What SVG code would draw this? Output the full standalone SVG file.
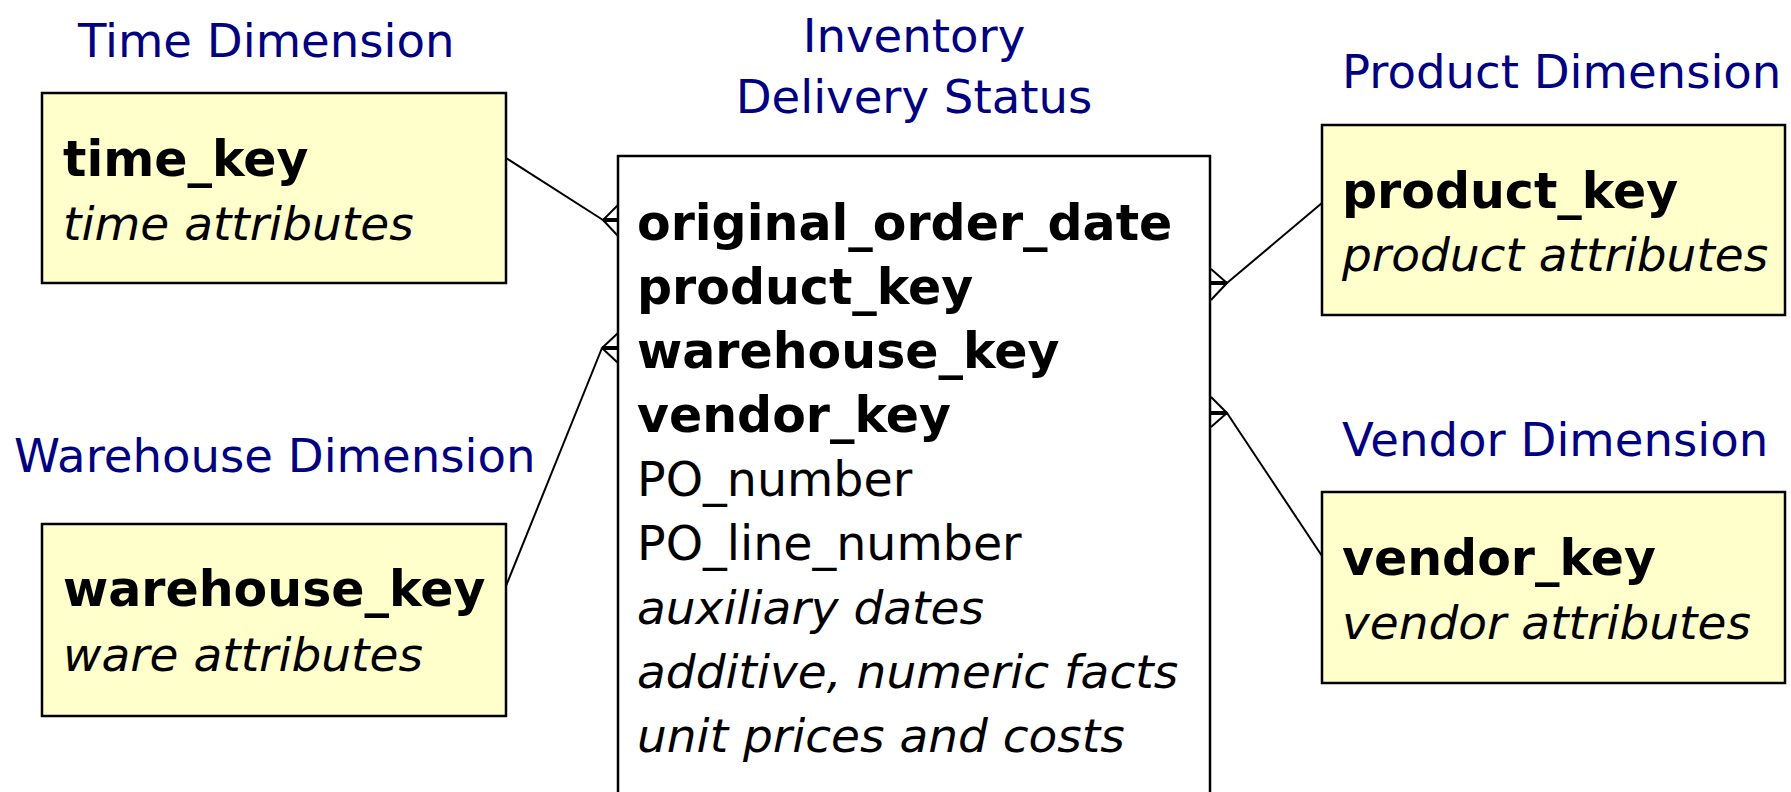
<svg xmlns="http://www.w3.org/2000/svg" width="1791" height="792" viewBox="0 0 1791 792">
<style>
  text { font-family: "DejaVu Sans", Verdana, sans-serif; fill: #000; }
  .title { font-size: 46.6px; fill: #000080; }
  .key { font-size: 49px; font-weight: bold; }
  .reg { font-size: 47.5px; }
  .it { font-size: 47px; font-style: italic; }
  .dim { fill: #FFFFCC; stroke: #000; stroke-width: 2.5; }
  .fact { fill: #FFFFFF; stroke: #000; stroke-width: 2.5; }
  .conn line, .conn polyline { stroke: #000; stroke-width: 2; fill: none; }
  .conn .stub { stroke-width: 4; }
</style>
<rect width="1791" height="792" fill="#FFFFFF"/>

<g id="connectors" class="conn">
  <line x1="506" y1="158" x2="603" y2="220"/>
  <polyline points="618,205 603,220 618,236"/>
  <line class="stub" x1="603" y1="220" x2="618" y2="220"/>

  <line x1="506" y1="586" x2="602" y2="348"/>
  <polyline points="618,333 602,348 618,363"/>
  <line class="stub" x1="602" y1="348" x2="618" y2="348"/>

  <line x1="1322" y1="203" x2="1227" y2="283"/>
  <polyline points="1211,269 1227,283 1211,300"/>
  <line class="stub" x1="1227" y1="283" x2="1211" y2="283"/>

  <line x1="1322" y1="556" x2="1227" y2="413"/>
  <polyline points="1211,397 1227,413 1211,427"/>
  <line class="stub" x1="1227" y1="413" x2="1211" y2="413"/>
</g>

<g id="time-dimension">
  <text class="title" x="78" y="57">Time Dimension</text>
  <rect class="dim" x="42" y="93" width="464" height="190"/>
  <text class="key" x="63" y="176">time_key</text>
  <text class="it" x="63" y="240">time attributes</text>
</g>

<g id="warehouse-dimension">
  <text class="title" x="14" y="472">Warehouse Dimension</text>
  <rect class="dim" x="42" y="524" width="464" height="192"/>
  <text class="key" x="63" y="606">warehouse_key</text>
  <text class="it" x="63" y="671">ware attributes</text>
</g>

<g id="fact-inventory-delivery-status">
  <text class="title" x="914" y="52" text-anchor="middle">Inventory</text>
  <text class="title" x="914" y="113" text-anchor="middle">Delivery Status</text>
  <rect class="fact" x="618" y="156" width="592" height="650"/>
  <text class="key" x="637" y="240">original_order_date</text>
  <text class="key" x="637" y="304">product_key</text>
  <text class="key" x="637" y="368">warehouse_key</text>
  <text class="key" x="637" y="432">vendor_key</text>
  <text class="reg" x="637" y="496">PO_number</text>
  <text class="reg" x="637" y="560">PO_line_number</text>
  <text class="it" x="637" y="624">auxiliary dates</text>
  <text class="it" x="637" y="688">additive, numeric facts</text>
  <text class="it" x="637" y="752">unit prices and costs</text>
</g>

<g id="product-dimension">
  <text class="title" x="1342" y="88">Product Dimension</text>
  <rect class="dim" x="1322" y="125" width="463" height="190"/>
  <text class="key" x="1342" y="208">product_key</text>
  <text class="it" x="1342" y="271">product attributes</text>
</g>

<g id="vendor-dimension">
  <text class="title" x="1342" y="456">Vendor Dimension</text>
  <rect class="dim" x="1322" y="492" width="463" height="191"/>
  <text class="key" x="1342" y="575">vendor_key</text>
  <text class="it" x="1342" y="639">vendor attributes</text>
</g>
</svg>
